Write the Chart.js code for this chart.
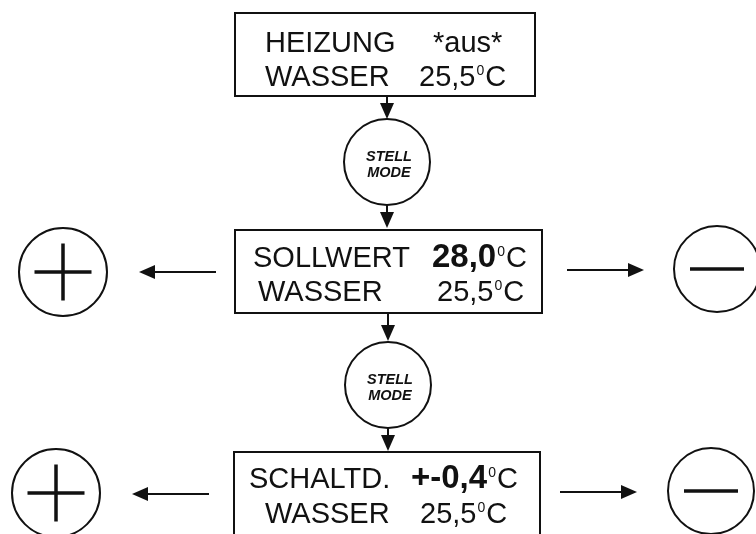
<!DOCTYPE html>
<html>
<head>
<meta charset="utf-8">
<script src="https://cdn.jsdelivr.net/npm/chart.js@4"></script>
<style>
  html, body { margin: 0; padding: 0; background: #fff; }
  #wrap { width: 756px; height: 534px; }
</style>
</head>
<body>
<div id="wrap"><canvas id="diagramm" width="756" height="534"></canvas></div>
<script>
// Anzeigeinhalt der drei Zustaende
const titel1 = ['HEIZUNG', 'SOLLWERT', 'SCHALTD.'];
const wert1 = ['*aus*', '28,0', '+-0,4'];
const wert1Fett = [false, true, true];
const wert1Grad = [false, true, true];
const titel2 = ['WASSER', 'WASSER', 'WASSER'];
const wert2 = ['25,5', '25,5', '25,5'];
const tasteText = ['STELL', 'MODE'];

// Layout (Diagrammkoordinaten, 1 Einheit = 1 px)
const boxX = [[235, 535], [235, 542], [234, 540]];
const boxY = [[13, 96], [230, 313], [452, 548]];
const titel1X = [265, 253, 249];
const titel2X = [265, 258, 265];
const wert1X = [433, 432, 411];
const wert2X = [419, 437, 420];
const zeile1Y = [52, 267, 488];
const zeile2Y = [86, 301, 523];

const tasteX = [387, 388];
const tasteY = [162, 385];
const plusX = [63, 56];
const plusY = [272, 493];
const minusX = [717, 711];
const minusY = [269, 491];

// Pfeile: Start und Spitze
const pfeilVon = [[387, 96], [387, 205], [388, 313], [388, 427], [216, 272], [567, 270], [209, 494], [560, 492]];
const pfeilNach = [[387, 119], [387, 228], [388, 341], [388, 451], [139, 272], [644, 270], [132, 494], [637, 492]];

const farbe = '#111';
const schrift = '"Liberation Sans", Arial, sans-serif';

// Pfeilspitze als eigenes Punktsymbol (zeigt nach oben)
const spitze = document.createElement('canvas');
spitze.width = 14;
spitze.height = 16;
const sctx = spitze.getContext('2d');
sctx.fillStyle = farbe;
sctx.beginPath();
sctx.moveTo(7, 0);
sctx.lineTo(14, 16);
sctx.lineTo(0, 16);
sctx.closePath();
sctx.fill();

const datasets = [];

boxX.forEach((bx, i) => {
    const [x0, x1] = bx;
    const [y0, y1] = boxY[i];
    datasets.push({
        data: [{ x: x0, y: y0 }, { x: x1, y: y0 }, { x: x1, y: y1 }, { x: x0, y: y1 }, { x: x0, y: y0 }],
        showLine: true,
        borderColor: farbe,
        borderWidth: 2,
        borderCapStyle: 'square',
        borderJoinStyle: 'miter',
        pointRadius: 0,
        clip: false,
        order: 0
    });
});

const spitzenPunkte = [];
const spitzenDrehung = [];
pfeilVon.forEach((von, i) => {
    const nach = pfeilNach[i];
    const dx = Math.sign(nach[0] - von[0]);
    const dy = Math.sign(nach[1] - von[1]);
    const mitte = { x: nach[0] - dx * 8, y: nach[1] - dy * 8 };
    datasets.push({
        data: [{ x: von[0], y: von[1] }, mitte],
        showLine: true,
        borderColor: farbe,
        borderWidth: 2,
        pointRadius: 0,
        clip: false,
        order: 0
    });
    spitzenPunkte.push(mitte);
    spitzenDrehung.push(dy > 0 ? 180 : dy < 0 ? 0 : dx > 0 ? 90 : 270);
});

datasets.push({
    data: spitzenPunkte,
    pointStyle: spitze,
    pointRotation: spitzenDrehung,
    pointRadius: 8,
    clip: false,
    order: 0
});

// Kreise (unten gezeichnet)
const kreise = [];
const kreisRadius = [];
tasteX.forEach((x, i) => { kreise.push({ x: x, y: tasteY[i] }); kreisRadius.push(43); });
plusX.forEach((x, i) => { kreise.push({ x: x, y: plusY[i] }); kreisRadius.push(44); });
minusX.forEach((x, i) => { kreise.push({ x: x, y: minusY[i] }); kreisRadius.push(43); });

datasets.push({
    data: kreise,
    pointStyle: 'circle',
    pointRadius: kreisRadius,
    pointBackgroundColor: '#fff',
    pointBorderColor: farbe,
    pointBorderWidth: 2,
    clip: false,
    order: 1
});

datasets.push({
    data: plusX.map((x, i) => ({ x: x, y: plusY[i] })),
    pointStyle: 'cross',
    pointRadius: 28.5,
    pointBorderColor: farbe,
    pointBorderWidth: 3.5,
    clip: false,
    order: 0
});

datasets.push({
    data: minusX.map((x, i) => ({ x: x, y: minusY[i] })),
    pointStyle: 'line',
    pointRadius: 27,
    pointBorderColor: farbe,
    pointBorderWidth: 3.5,
    clip: false,
    order: 0
});

const textPlugin = {
    id: 'anzeigeText',
    afterDatasetsDraw(chart) {
        const { ctx, scales: { x, y } } = chart;
        ctx.save();
        ctx.fillStyle = farbe;
        ctx.textBaseline = 'alphabetic';
        ctx.textAlign = 'left';

        const schreibe = (text, px, py, font) => {
            ctx.font = font;
            ctx.fillText(text, px, py);
            return ctx.measureText(text).width;
        };
        const grad = (px, py) => {
            px += 1;
            px += schreibe('0', px, py - 11, '14px ' + schrift) + 1;
            schreibe('C', px, py, '29px ' + schrift);
        };

        for (let i = 0; i < titel1.length; i++) {
            const b1 = y.getPixelForValue(zeile1Y[i]);
            const b2 = y.getPixelForValue(zeile2Y[i]);
            schreibe(titel1[i], x.getPixelForValue(titel1X[i]), b1, '29px ' + schrift);
            const f = wert1Fett[i] ? 'bold 33px ' + schrift : '29px ' + schrift;
            let px = x.getPixelForValue(wert1X[i]);
            px += schreibe(wert1[i], px, b1, f);
            if (wert1Grad[i]) grad(px, b1);

            schreibe(titel2[i], x.getPixelForValue(titel2X[i]), b2, '29px ' + schrift);
            px = x.getPixelForValue(wert2X[i]);
            px += schreibe(wert2[i], px, b2, '29px ' + schrift);
            grad(px, b2);
        }

        ctx.textAlign = 'center';
        ctx.font = 'italic bold 14.5px ' + schrift;
        tasteX.forEach((tx, i) => {
            const cx = x.getPixelForValue(tx) + 2;
            const cy = y.getPixelForValue(tasteY[i]);
            ctx.fillText(tasteText[0], cx, cy - 1);
            ctx.fillText(tasteText[1], cx, cy + 15);
        });
        ctx.restore();
    }
};

new Chart(document.getElementById('diagramm'), {
    type: 'scatter',
    data: { datasets: datasets },
    options: {
        responsive: false,
        animation: false,
        events: [],
        layout: { padding: 0, autoPadding: false },
        scales: {
            x: { type: 'linear', min: 0, max: 756, display: false },
            y: { type: 'linear', min: 0, max: 534, reverse: true, display: false }
        },
        plugins: {
            legend: { display: false },
            tooltip: { enabled: false }
        }
    },
    plugins: [textPlugin]
});
</script>
</body>
</html>
